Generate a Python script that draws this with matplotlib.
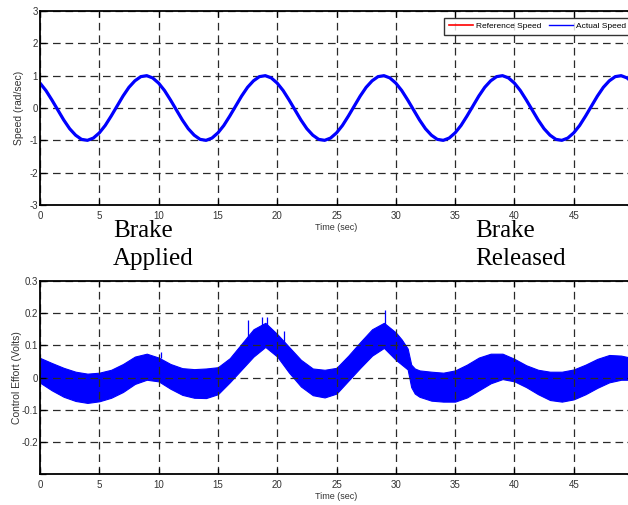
import matplotlib
matplotlib.use("Agg")
import matplotlib.pyplot as plt
from matplotlib.lines import Line2D

plt.rcParams['font.family'] = ['Liberation Sans', 'DejaVu Sans']
plt.rcParams['lines.scale_dashes'] = False

# ---------------- data ----------------
time_speed = [i * 0.5 for i in range(101)]
actual_speed = [
    0.77, 0.54, 0.25, -0.06, -0.37, -0.64, -0.84, -0.97, -1.00, -0.93,
    -0.77, -0.54, -0.25, 0.06, 0.37, 0.64, 0.84, 0.97, 1.00, 0.93,
    0.77, 0.54, 0.25, -0.06, -0.37, -0.64, -0.84, -0.97, -1.00, -0.93,
    -0.77, -0.54, -0.25, 0.06, 0.37, 0.64, 0.84, 0.97, 1.00, 0.93,
    0.77, 0.54, 0.25, -0.06, -0.37, -0.64, -0.84, -0.97, -1.00, -0.93,
    -0.77, -0.54, -0.25, 0.06, 0.37, 0.64, 0.84, 0.97, 1.00, 0.93,
    0.77, 0.54, 0.25, -0.06, -0.37, -0.64, -0.84, -0.97, -1.00, -0.93,
    -0.77, -0.54, -0.25, 0.06, 0.37, 0.64, 0.84, 0.97, 1.00, 0.93,
    0.77, 0.54, 0.25, -0.06, -0.37, -0.64, -0.84, -0.97, -1.00, -0.93,
    -0.77, -0.54, -0.25, 0.06, 0.37, 0.64, 0.84, 0.97, 1.00, 0.93,
    0.77,
]
reference_speed = list(actual_speed)

time_effort = [0, 1, 2, 3, 4, 5, 6, 7, 8, 9, 10, 11, 12, 13, 14, 15, 16, 17, 18, 19,
               20, 21, 22, 23, 24, 25, 26, 27, 28, 29, 30, 30.5, 31, 31.3, 31.6, 32,
               33, 34, 35, 36, 37, 38, 39, 40, 41, 42, 43, 44, 45, 46, 47, 48, 49, 50]
effort_upper = [0.061, 0.045, 0.030, 0.018, 0.012, 0.015, 0.024, 0.042, 0.065, 0.074,
                0.062, 0.042, 0.029, 0.026, 0.028, 0.032, 0.060, 0.105, 0.150, 0.170,
                0.135, 0.095, 0.055, 0.028, 0.024, 0.030, 0.068, 0.110, 0.150, 0.170,
                0.140, 0.118, 0.090, 0.040, 0.028, 0.022,
                0.018, 0.015, 0.022, 0.040, 0.062, 0.074, 0.074, 0.058, 0.038, 0.024,
                0.018, 0.018, 0.025, 0.040, 0.058, 0.070, 0.068, 0.060]
effort_lower = [-0.016, -0.040, -0.060, -0.073, -0.079, -0.074, -0.063, -0.045, -0.020, -0.007,
                -0.012, -0.035, -0.054, -0.063, -0.064, -0.052, -0.015, 0.025, 0.065, 0.095,
                0.065, 0.015, -0.028, -0.055, -0.062, -0.050, -0.010, 0.030, 0.068, 0.092,
                0.055, 0.040, 0.025, -0.030, -0.050, -0.060,
                -0.072, -0.075, -0.075, -0.062, -0.040, -0.018, -0.005, -0.012, -0.030, -0.052,
                -0.070, -0.075, -0.068, -0.052, -0.032, -0.015, -0.007, -0.007]
spike_t = [10.2, 17.5, 18.7, 19.1, 20.6, 29.05]
spike_base = [0.06, 0.12, 0.15, 0.15, 0.11, 0.16]
spike_top = [0.08, 0.178, 0.189, 0.189, 0.144, 0.211]

xticks = [0, 5, 10, 15, 20, 25, 30, 35, 40, 45]
speed_yticks = [-3, -2, -1, 0, 1, 2, 3]
effort_yticks = [-0.3, -0.2, -0.1, 0, 0.1, 0.2, 0.3]
effort_yticklabels = ['', '-0.2', '-0.1', '0', '0.1', '0.2', '0.3']

# ---------------- figure ----------------
W, H = 628, 505
fig = plt.figure(figsize=(W / 100, H / 100), dpi=100)

def px_axes(left, top, right, bottom):
    return fig.add_axes([left / W, 1 - bottom / H, (right - left) / W, (bottom - top) / H])

ax1 = px_axes(40, 11, 633, 205)
ax2 = px_axes(40, 281, 633, 474)

grid_kw = dict(color='#2a2a2a', linestyle=(0, (5.5, 3.5)), linewidth=0.9)
tick_color = '#333333'

for ax in (ax1, ax2):
    ax.set_xlim(0, 50)
    ax.set_xticks(xticks)
    ax.set_xticklabels([str(v) for v in xticks])
    ax.grid(True, **grid_kw)
    ax.tick_params(direction='in', length=4, width=0.9, top=True, right=True,
                   labelsize=7, colors='black', labelcolor=tick_color)
    ax.tick_params(axis='x', pad=4)
    ax.tick_params(axis='y', pad=1.5)
    for s in ax.spines.values():
        s.set_linewidth(1.3)
        s.set_color('black')
    ax.set_xlabel('Time (sec)', fontsize=6.5, color=tick_color, labelpad=2)

# top plot
ax1.plot(time_speed, reference_speed, color='red', lw=1.2)
ax1.plot(time_speed, actual_speed, color='#0000ff', lw=2.3)
ax1.set_ylim(-3, 3)
ax1.set_yticks(speed_yticks)
ax1.set_yticklabels([str(v) for v in speed_yticks])
ax1.set_ylabel('Speed (rad/sec)', fontsize=7.5, color=tick_color)
ax1.yaxis.set_label_coords(-0.027, 0.5)
handles = [Line2D([], [], color='red', lw=1.2), Line2D([], [], color='#0000ff', lw=1.0)]
leg = ax1.legend(handles, ['Reference Speed', 'Actual Speed'], loc='upper right', ncol=2,
                 fontsize=6, frameon=True, fancybox=False, edgecolor='black',
                 handlelength=2.9, columnspacing=0.85, handletextpad=0.4,
                 borderaxespad=0, borderpad=0.55,
                 bbox_to_anchor=(631 / W, 1 - 17.7 / H), bbox_transform=fig.transFigure)
leg.get_frame().set_linewidth(1.0)

# bottom plot
ax2.fill_between(time_effort, effort_lower, effort_upper, color='#0000ff', lw=0.8,
                 edgecolor='#0000ff')
ax2.vlines(spike_t, spike_base, spike_top, color='#0000ff', lw=0.9)
ax2.set_ylim(-0.3, 0.3)
ax2.set_yticks(effort_yticks)
ax2.set_yticklabels(effort_yticklabels)
ax2.set_ylabel('Control Effort (Volts)', fontsize=7.5, color=tick_color)
ax2.yaxis.set_label_coords(-0.031, 0.5)

# annotations
serif = ['Liberation Serif', 'DejaVu Serif']
for txt, x, y in [('Brake', 113, 237), ('Applied', 113, 265),
                  ('Brake', 475, 237), ('Released', 475, 265)]:
    fig.text(x / W, 1 - y / H, txt, family=serif, fontsize=18, va='baseline', ha='left')

fig.savefig('out.png', dpi=100)
